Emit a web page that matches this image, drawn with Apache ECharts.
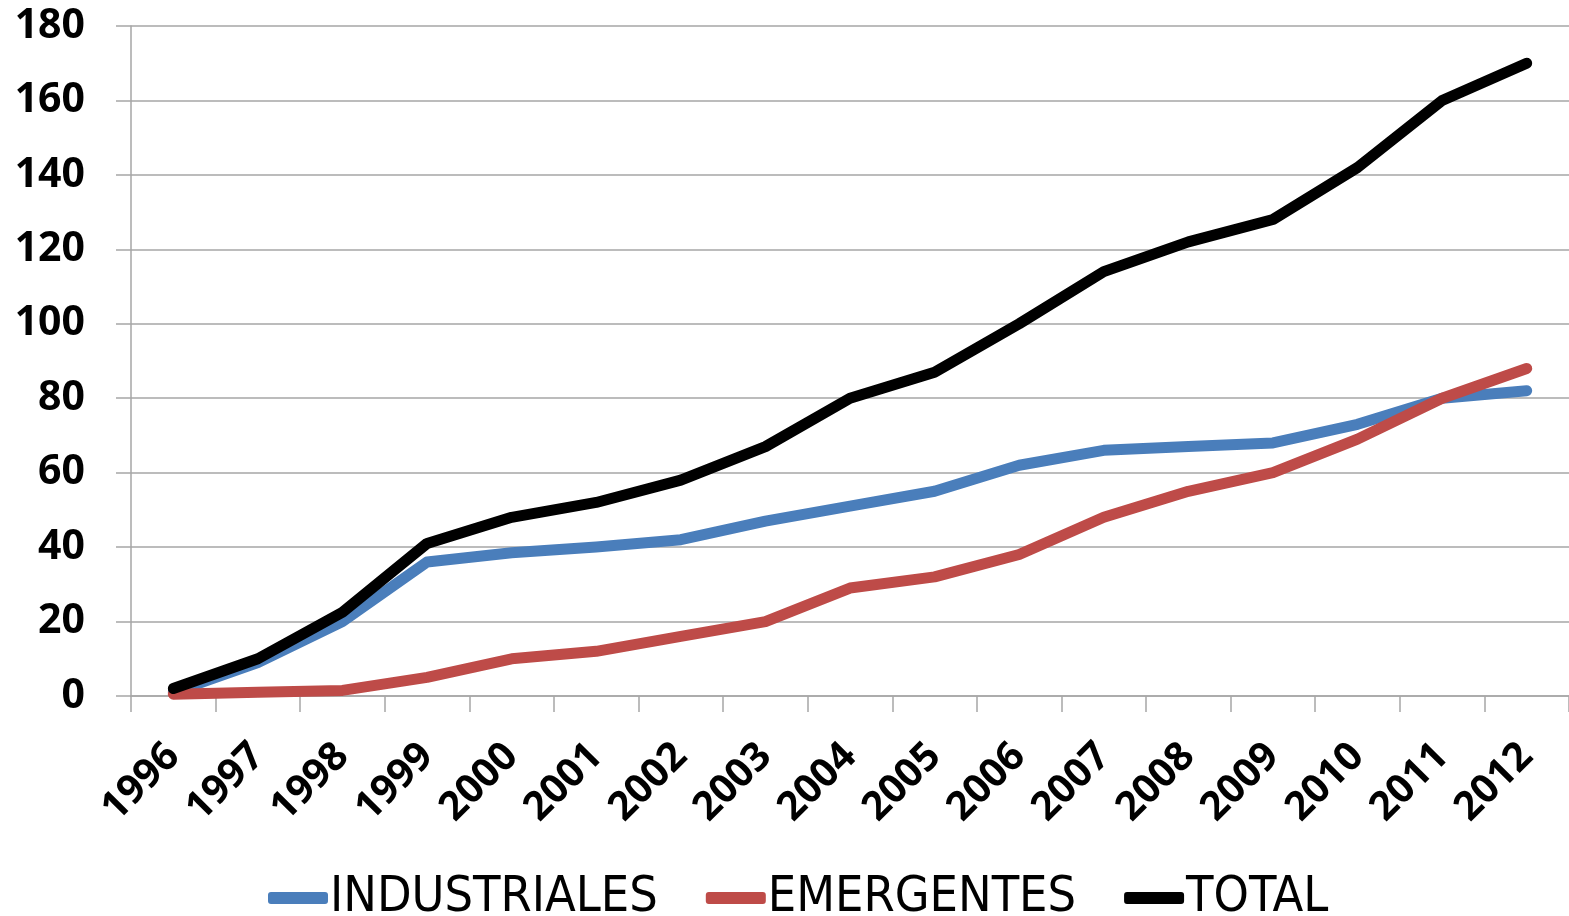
<!DOCTYPE html>
<html>
<head>
<meta charset="utf-8">
<script src="https://cdn.jsdelivr.net/npm/echarts@6/dist/echarts.min.js"></script>
<style>
html, body { margin: 0; padding: 0; background: #fff; }
#chart { width: 1569px; height: 916px; }
</style>
</head>
<body>
<div id="chart"></div>
<script>
// años
var years = ['1996', '1997', '1998', '1999', '2000', '2001', '2002', '2003', '2004',
    '2005', '2006', '2007', '2008', '2009', '2010', '2011', '2012'];

var industriales = [1, 9, 20, 36, 38.5, 40, 42, 47, 51, 55, 62, 66, 67, 68, 73, 80, 82];
var emergentes = [0.5, 1, 1.5, 5, 10, 12, 16, 20, 29, 32, 38, 48, 55, 60, 69, 80, 88];
var total = [2, 10, 22.5, 41, 48, 52, 58, 67, 80, 87, 100, 114, 122, 128, 142, 160, 170];

var seriesNames = ['INDUSTRIALES', 'EMERGENTES', 'TOTAL'];
var colors = ['#4A7EBB', '#BE4B48', '#000000'];

var chart = echarts.init(document.getElementById('chart'));

var lineSeries = function (name, data, color) {
    return {
        name: name,
        type: 'line',
        data: data,
        symbol: 'none',
        color: color,
        lineStyle: { width: 11, color: color, cap: 'round', join: 'round' }
    };
};

var option = {
    animation: false,
    grid: { left: 131, right: -2, top: 26, bottom: 220 },
    legend: {
        bottom: -12,
        left: 263,
        icon: 'roundRect',
        itemWidth: 60,
        itemHeight: 12,
        itemGap: 48,
        textStyle: {
            fontFamily: "'DejaVu Sans Condensed', 'DejaVu Sans', sans-serif",
            fontSize: 50,
            color: '#000',
            padding: [0, 0, 0, -3]
        },
        data: seriesNames
    },
    xAxis: {
        type: 'category',
        data: years,
        boundaryGap: true,
        axisLine: { lineStyle: { color: '#a6a6a6', width: 1.5 } },
        axisTick: { show: true, length: 16, lineStyle: { color: '#a6a6a6', width: 1.5 } },
        axisLabel: {
            rotate: 45,
            margin: 54,
            fontFamily: 'Open Sans',
            fontWeight: 'bold',
            fontSize: 40,
            color: '#000'
        }
    },
    yAxis: {
        type: 'value',
        min: 0,
        max: 180,
        interval: 20,
        axisLine: { show: true, lineStyle: { color: '#a6a6a6', width: 1.5 } },
        axisTick: { show: true, length: 15, lineStyle: { color: '#a6a6a6', width: 1.5 } },
        splitLine: { lineStyle: { color: '#a6a6a6', width: 1.5 } },
        axisLabel: {
            margin: 46,
            fontFamily: 'Open Sans',
            fontWeight: 'bold',
            fontSize: 41,
            color: '#000'
        }
    },
    series: [
        lineSeries(seriesNames[0], industriales, colors[0]),
        lineSeries(seriesNames[1], emergentes, colors[1]),
        lineSeries(seriesNames[2], total, colors[2])
    ]
};
chart.setOption(option);
</script>
</body>
</html>
